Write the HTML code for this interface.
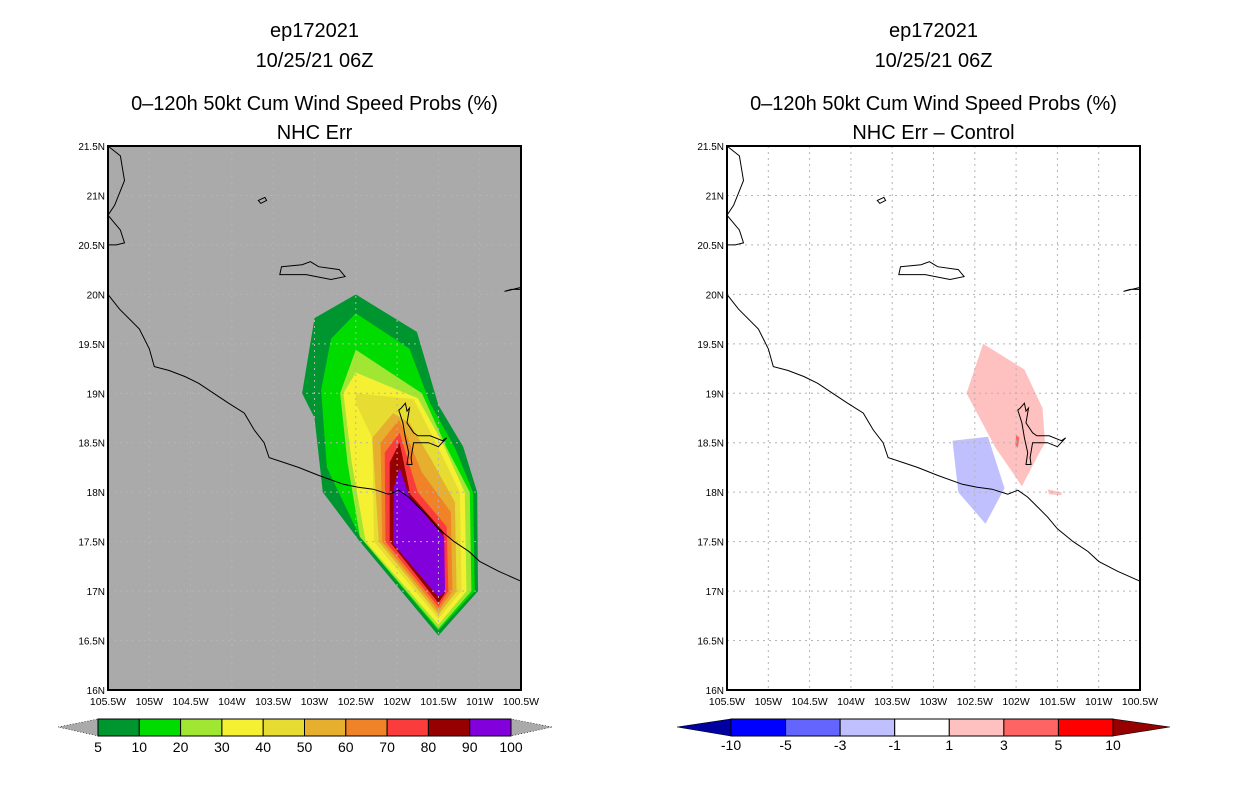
<!DOCTYPE html>
<html><head><meta charset="utf-8"><style>
html,body{margin:0;padding:0;background:#fff;}
svg{display:block;font-family:"Liberation Sans",sans-serif;}
</style></head><body>
<svg id="s" width="1236" height="800" viewBox="0 0 1236 800"></svg>
<script>
// ---- data ----
const lonTicks = [-105.5,-105,-104.5,-104,-103.5,-103,-102.5,-102,-101.5,-101,-100.5];
const lonLabels = ["105.5W","105W","104.5W","104W","103.5W","103W","102.5W","102W","101.5W","101W","100.5W"];
const latTicks = [16,16.5,17,17.5,18,18.5,19,19.5,20,20.5,21,21.5];
const latLabels = ["16N","16.5N","17N","17.5N","18N","18.5N","19N","19.5N","20N","20.5N","21N","21.5N"];
const probLevels = ["5","10","20","30","40","50","60","70","80","90","100"];
const probColors = ["#00962f","#00dc00","#a0e632","#f5f032","#e6dc32","#e6af2d","#f08228","#fa3c3c","#960000","#8200dc"];
const diffLevels = ["-10","-5","-3","-1","1","3","5","10"];
const diffColors = ["#0000a0","#0000ff","#6464ff","#c0c0ff","#ffffff","#ffc0c0","#ff6464","#ff0000","#960000"];
// probability contour polygons (lon, lat) per level
const poly5  = [[-102.5,20],[-103,19.76],[-103.15,19],[-103,18.75],[-102.9,18],[-102.45,17.5],[-101.5,16.55],[-101.02,17],[-101.03,18],[-101.2,18.46],[-101.5,18.88],[-101.76,19.62]];
const poly10 = [[-102.5,19.81],[-102.8,19.55],[-102.92,19.03],[-102.85,18.25],[-102.45,17.55],[-101.5,16.6],[-101.06,17],[-101.08,18],[-101.3,18.45],[-101.6,18.9],[-101.85,19.45]];
const poly20 = [[-102.5,19.44],[-102.69,19.0],[-102.6,18.3],[-102.45,17.55],[-101.5,16.62],[-101.1,17],[-101.12,18],[-101.4,18.45],[-101.7,19.0]];
const poly30 = [[-102.5,19.21],[-102.65,19.0],[-102.55,18.3],[-102.38,17.5],[-101.5,16.66],[-101.16,17],[-101.18,18],[-101.45,18.5],[-101.75,18.95]];
const poly40 = [[-102.5,19.0],[-102.5,18.9],[-102.3,18.55],[-102.28,17.5],[-101.5,16.72],[-101.22,17],[-101.24,18],[-101.5,18.45],[-101.8,18.94]];
const poly50 = [[-102.05,18.8],[-102.3,18.55],[-102.22,17.5],[-101.5,16.76],[-101.28,17],[-101.3,17.9],[-101.6,18.35],[-101.85,18.7]];
const poly60 = [[-101.98,18.73],[-102.2,18.5],[-102.18,17.5],[-101.5,16.8],[-101.33,17],[-101.35,17.8],[-101.7,18.2],[-101.9,18.6]];
const poly70 = [[-101.97,18.6],[-102.15,18.4],[-102.14,17.5],[-101.5,16.84],[-101.38,17],[-101.4,17.65],[-101.75,18.0]];
const poly80 = [[-101.97,18.5],[-102.09,18.3],[-102.09,17.5],[-101.5,16.88],[-101.42,16.98],[-101.44,17.6],[-101.84,17.98]];
const poly90 = [[-101.97,18.25],[-102.04,18.05],[-102.05,17.48],[-101.5,16.94],[-101.42,16.99],[-101.43,17.55],[-101.85,17.95]];
const probPolys = [poly5,poly10,poly20,poly30,poly40,poly50,poly60,poly70,poly80,poly90];
// difference polygons
const diffPos3 = [[-102.6,19.0],[-102.4,19.5],[-101.9,19.24],[-101.68,18.85],[-101.65,18.5],[-101.75,18.35],[-101.93,18.06],[-102.25,18.45]];
const diffPosSmall = [[-101.62,18.03],[-101.45,18.0],[-101.45,17.97],[-101.6,17.98]];
const diffPos5 = [[-102.0,18.58],[-101.96,18.55],[-101.98,18.45],[-102.01,18.48]];
const diffNeg1 = [[-102.77,18.52],[-102.34,18.56],[-102.14,18.04],[-102.37,17.68],[-102.7,18.0]];
// coastline (lon, lat)
const coast = [[-105.5,20.0],[-105.36,19.85],[-105.12,19.65],[-105.0,19.45],[-104.94,19.27],[-104.76,19.23],[-104.57,19.17],[-104.4,19.1],[-104.22,19.0],[-104.04,18.9],[-103.85,18.8],[-103.73,18.63],[-103.61,18.5],[-103.55,18.35],[-103.37,18.3],[-103.19,18.25],[-102.95,18.17],[-102.65,18.08],[-102.47,18.05],[-102.29,18.03],[-102.1,17.98],[-101.98,18.02],[-101.86,17.95],[-101.74,17.85],[-101.62,17.75],[-101.5,17.63],[-101.31,17.5],[-101.13,17.4],[-101.0,17.3],[-100.77,17.2],[-100.5,17.1]];
const lagoon = [[-101.95,18.85],[-101.9,18.9],[-101.88,18.82],[-101.85,18.85],[-101.88,18.7],[-101.8,18.6],[-101.75,18.57],[-101.6,18.57],[-101.45,18.52],[-101.4,18.55],[-101.5,18.46],[-101.62,18.5],[-101.8,18.5],[-101.83,18.35],[-101.82,18.28],[-101.88,18.28],[-101.86,18.4],[-101.9,18.55],[-101.93,18.7],[-101.98,18.83]];
const island = [[-103.4,20.28],[-103.15,20.3],[-103.05,20.33],[-102.95,20.28],[-102.7,20.25],[-102.63,20.18],[-102.8,20.15],[-103.1,20.2],[-103.42,20.2]];
const islet = [[-103.68,20.95],[-103.6,20.98],[-103.58,20.95],[-103.65,20.92]];
const leftCoast = [[-105.5,21.5],[-105.35,21.4],[-105.3,21.15],[-105.42,20.9],[-105.5,20.8],[-105.35,20.65],[-105.3,20.52],[-105.4,20.5],[-105.5,20.5]];
const eastBit = [[-100.5,20.05],[-100.62,20.05],[-100.7,20.03],[-100.5,20.07]];

const NS="http://www.w3.org/2000/svg";
const svg=document.getElementById('s');
function el(tag,attrs,parent,txt){const e=document.createElementNS(NS,tag);for(const k in attrs)e.setAttribute(k,attrs[k]);if(txt!==undefined)e.textContent=txt;(parent||svg).appendChild(e);return e;}

function panel(x0,title2,isDiff,key){
  const W=413,H=544,y0=146;
  const xs=lon=>x0+(lon+105.5)/5*W;
  const ys=lat=>y0+(21.5-lat)/5.5*H;
  const pts=arr=>arr.map(p=>xs(p[0]).toFixed(1)+','+ys(p[1]).toFixed(1)).join(' ');
  const cx=x0+W/2;
  const g=el('g',{});
  
  
  let t;
  t=el('text',{x:cx,y:37,'text-anchor':'middle','font-size':20},g,'ep172021');
  
  t=el('text',{x:cx,y:67,'text-anchor':'middle','font-size':20},g,'10/25/21 06Z');
  
  t=el('text',{x:cx,y:110,'text-anchor':'middle','font-size':20},g,'0\u2013120h 50kt Cum Wind Speed Probs (%)');
  
  t=el('text',{x:cx,y:139,'text-anchor':'middle','font-size':20},g,title2);
  
  const bg=el('rect',{x:x0,y:y0,width:W,height:H,fill:isDiff?'#fff':'#aaaaaa'},g);
  
  if(!isDiff){
    probPolys.forEach((p,i)=>{const q=el('polygon',{points:pts(p),fill:probColors[i]},g);
      });
  } else {
    [[diffPos3,diffColors[5],'diff-positive-1-3'],[diffPosSmall,diffColors[5],'diff-positive-small'],[diffPos5,diffColors[6],'diff-positive-3-5'],[diffNeg1,diffColors[3],'diff-negative-1-3']].forEach(d=>{
      const q=el('polygon',{points:pts(d[0]),fill:d[1]},g);
      });
  }
  // grid
  lonTicks.slice(1,-1).forEach(l=>{const ln=el('line',{x1:xs(l),x2:xs(l),y1:y0,y2:y0+H,stroke:'#b4b4b4','stroke-dasharray':'2,4','stroke-width':1},g);
    });
  latTicks.slice(1,-1).forEach(l=>{const ln=el('line',{x1:x0,x2:x0+W,y1:ys(l),y2:ys(l),stroke:'#b4b4b4','stroke-dasharray':'2,4','stroke-width':1},g);
    });
  // coastlines
  [[coast,'coastline',false],[lagoon,'lagoon-outline',true],[island,'island-outline',true],[islet,'islet-outline',true],[leftCoast,'left-coast',false],[eastBit,'east-coast-bit',true]].forEach(c=>{
    const q=el(c[2]?'polygon':'polyline',{points:pts(c[0]),fill:'none',stroke:'#000','stroke-width':1},g);
    });
  const fr=el('rect',{x:x0,y:y0,width:W,height:H,fill:'none',stroke:'#000','stroke-width':2},g);
  
  lonTicks.forEach((l,i)=>{const q=el('text',{x:xs(l),y:705,'text-anchor':'middle','font-size':10.5},g,lonLabels[i]);
    });
  latTicks.forEach((l,i)=>{const q=el('text',{x:x0-3,y:ys(l)+4,'text-anchor':'end','font-size':10},g,latLabels[i]);
    });
}
panel(108,'NHC Err',false,'left');
panel(727,'NHC Err \u2013 Control',true,'right');

// left colorbar
(function(){
  const g=el('g',{});
  const x0=98,x1=511,y=719,h=17,n=probColors.length,w=(x1-x0)/n;
  const lt=el('polygon',{points:`58,727 ${x0},${y} ${x0},${y+h}`,fill:'#aaa',stroke:'#000','stroke-dasharray':'1,2','stroke-width':0.6},g);
  
  const rt=el('polygon',{points:`552,727 ${x1},${y} ${x1},${y+h}`,fill:'#aaa',stroke:'#000','stroke-dasharray':'1,2','stroke-width':0.6},g);
  
  probColors.forEach((c,i)=>{const r=el('rect',{x:x0+i*w,y:y,width:w,height:h,fill:c,stroke:'#000','stroke-width':1},g);
    });
  probLevels.forEach((t,i)=>{const q=el('text',{x:x0+i*w,y:752,'text-anchor':'middle','font-size':14},g,t);
    });
})();
// right colorbar
(function(){
  const g=el('g',{});
  const x0=731,x1=1113,y=719,h=17,n=7,w=(x1-x0)/n;
  const lt=el('polygon',{points:`677,727 ${x0},${y} ${x0},${y+h}`,fill:diffColors[0],stroke:'#000','stroke-width':0.6},g);
  
  const rt=el('polygon',{points:`1170,727 ${x1},${y} ${x1},${y+h}`,fill:diffColors[8],stroke:'#000','stroke-width':0.6},g);
  
  for(let i=0;i<n;i++){const r=el('rect',{x:x0+i*w,y:y,width:w,height:h,fill:diffColors[i+1],stroke:'#000','stroke-width':1},g);
    }
  diffLevels.forEach((t,i)=>{const q=el('text',{x:x0+i*w,y:750,'text-anchor':'middle','font-size':14},g,t);
    });
})();
</script>
</body></html>
